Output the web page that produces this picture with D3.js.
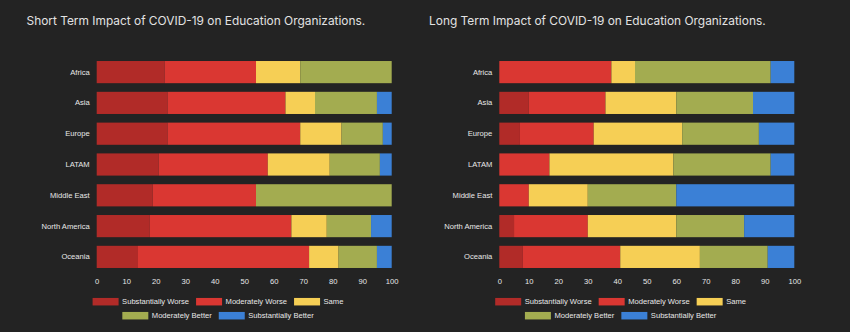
<!DOCTYPE html>
<html>
<head>
<meta charset="utf-8">
<script src="https://cdn.jsdelivr.net/npm/d3@7"></script>
<style>
	html, body { margin: 0; padding: 0; background: #232323; }
	svg { display: block; }
	.title { font-family: Inter, "Noto Sans", sans-serif; fill: #e2e2e2; }
	.lbl { font-family: "Liberation Sans", Arial, sans-serif; fill: #e8e8e8; }
</style>
</head>
<body>
<div id="chart"></div>
<script>
var regions = ['Africa', 'Asia', 'Europe', 'LATAM', 'Middle East', 'North America', 'Oceania']
var responses = ['Substantially Worse', 'Moderately Worse', 'Same', 'Moderately Better', 'Substantially Better']
var xTicks = [0, 10, 20, 30, 40, 50, 60, 70, 80, 90, 100]

// short term, % of organizations per region
var shortSubWorse = [23, 24, 24, 21, 19, 18, 14]
var shortModWorse = [31, 40, 45, 37, 35, 48, 58]
var shortSame = [15, 10, 14, 21, 0, 12, 10]
var shortModBetter = [31, 21, 14, 17, 46, 15, 13]
var shortSubBetter = [0, 5, 3, 4, 0, 7, 5]

// long term
var longSubWorse = [0, 10, 7, 0, 0, 5, 8]
var longModWorse = [38, 26, 25, 17, 10, 25, 33]
var longSame = [8, 24, 30, 42, 20, 30, 27]
var longModBetter = [46, 26, 26, 33, 30, 23, 23]
var longSubBetter = [8, 14, 12, 8, 40, 17, 9]

var colors = ['#b12b28', '#da3732', '#f6cf55', '#a3ac50', '#3b80d6']

var svg = d3.select('#chart').append('svg')
	.attr('width', 850)
	.attr('height', 332)

function makeChart(title, series, offsetX) {
	var g = svg.append('g').attr('transform', 'translate(' + offsetX + ',0)')

	var xScale = d3.scaleLinear().domain([0, 100]).range([96.7, 391.7])
	var yScale = d3.scaleBand().domain(regions)
		.range([56.7, 272.3])
		.paddingInner(0.28)
		.paddingOuter(0.14)

	g.append('text')
		.attr('class', 'title')
		.attr('x', 26.5)
		.attr('y', 25)
		.style('font-size', '11.9px')
		.text(title)

	var table = regions.map(function(r, i) {
		var row = { region: r }
		responses.forEach(function(k, j) { row[k] = series[j][i] })
		return row
	})
	var stacked = d3.stack().keys(responses)(table)

	g.selectAll('g.layer')
		.data(stacked)
		.enter().append('g')
		.attr('class', 'layer')
		.attr('fill', function(d, i) { return colors[i] })
		.selectAll('rect')
		.data(function(d) { return d })
		.enter().append('rect')
		.attr('x', function(d) { return xScale(d[0]) })
		.attr('width', function(d) { return xScale(d[1]) - xScale(d[0]) })
		.attr('y', function(d) { return yScale(d.data.region) })
		.attr('height', yScale.bandwidth())

	var yAxis = g.append('g')
		.attr('transform', 'translate(' + (xScale(0) - 7) + ',0)')
		.call(d3.axisLeft(yScale).tickSize(0).tickPadding(0))
	yAxis.select('.domain').remove()
	yAxis.selectAll('text').attr('class', 'lbl').attr('fill', null).style('font-size', '7.6px')

	var xAxis = g.append('g')
		.attr('transform', 'translate(0,272)')
		.call(d3.axisBottom(xScale).tickValues(xTicks).tickSize(0).tickPadding(7))
	xAxis.select('.domain').remove()
	xAxis.selectAll('text').attr('class', 'lbl').attr('fill', null).style('font-size', '7.6px')

	// legend, wrapped into rows and centred like the original
	var legend = g.append('g')
	var items = legend.selectAll('g.item')
		.data(responses)
		.enter().append('g')
		.attr('class', 'item')
	items.append('rect')
		.attr('width', 26)
		.attr('height', 7.5)
		.attr('y', -3.75)
		.attr('fill', function(d, i) { return colors[i] })
	items.append('text')
		.attr('class', 'lbl')
		.attr('x', 29.5)
		.attr('dy', '0.35em')
		.style('font-size', '7.6px')
		.text(function(d) { return d })

	var rows = [[]], rowW = [0], maxW = 270
	items.each(function(d, i) {
		var w = 29.5 + this.querySelector('text').getComputedTextLength()
		var r = rows.length - 1
		var add = rows[r].length ? 7 + w : w
		if (rowW[r] + add > maxW) {
			rows.push([]); rowW.push(0); r++; add = w
		}
		rows[r].push({ node: this, w: w })
		rowW[r] += add
	})
	rows.forEach(function(row, r) {
		var x = 218 - rowW[r] / 2
		row.forEach(function(it) {
			d3.select(it.node).attr('transform', 'translate(' + x + ',' + (301.7 + r * 14) + ')')
			x += it.w + 7
		})
	})
}

makeChart('Short Term Impact of COVID-19 on Education Organizations.',
	[shortSubWorse, shortModWorse, shortSame, shortModBetter, shortSubBetter], 0)
makeChart('Long Term Impact of COVID-19 on Education Organizations.',
	[longSubWorse, longModWorse, longSame, longModBetter, longSubBetter], 402.6)
</script>
</body>
</html>
